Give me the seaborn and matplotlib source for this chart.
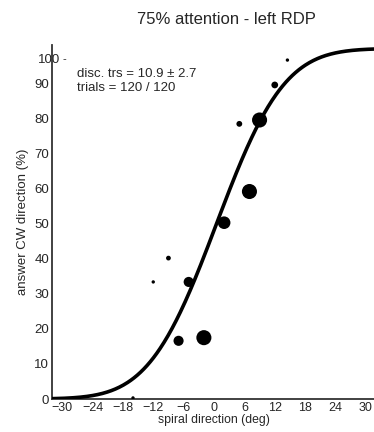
import numpy as np
import pandas as pd
import matplotlib
matplotlib.use("Agg")
import matplotlib.pyplot as plt
import seaborn as sns
from math import erf, sqrt

# ---- data ----
direction = [-16, -12, -9, -7, -5, -2, 2, 5, 7, 9, 12, 14.5]
answer_cw = [0.3, 33.4, 40.2, 16.6, 33.4, 17.5, 50.3, 78.5, 59.2, 79.6, 89.6, 96.7]
trials = [1, 1, 2, 9, 9, 20, 14, 3, 20, 20, 4, 1]
fit_mu = 0.5
fit_sigma = 10.5
x_ticks = [-30, -24, -18, -12, -6, 0, 6, 12, 18, 24, 30]
y_ticks = [0, 10, 20, 30, 40, 50, 60, 70, 80, 90]
title = "75% attention - left RDP"
info_lines = ["disc. trs = 10.9 \u00b1 2.7", "trials = 120 / 120"]

sns.set_theme(style="white")
plt.rcParams['font.family'] = ['Liberation Sans', 'DejaVu Sans']
plt.rcParams['axes.unicode_minus'] = True

fig = plt.figure(figsize=(3.74, 4.32), dpi=100)
ax = fig.add_axes([52/374, 33/432, (375-52)/374, (399-45)/432])

df = pd.DataFrame({"x": direction, "y": answer_cw, "n": trials})
curve_x = np.linspace(-32, 32, 400)
curve_y = [100 * 0.5 * (1 + erf((v - fit_mu) / (fit_sigma * sqrt(2)))) for v in curve_x]
cdf = pd.DataFrame({"x": curve_x, "y": curve_y})

sns.lineplot(data=cdf, x="x", y="y", ax=ax, color="black", linewidth=2.6, zorder=3)
k = (0.72 * 3.37) ** 2
sns.scatterplot(data=df, x="x", y="y", size="n", sizes=(k * 1, k * 20), size_norm=(1, 20),
                color="black", edgecolor="none", legend=False, ax=ax, zorder=4)

ax.set_xlim(-32, 31.8)
ax.set_ylim(0, 101)
ax.set_xticks(x_ticks)
ax.set_xticklabels([f"\u2212{abs(t)}" if t < 0 else str(t) for t in x_ticks], fontsize=9)
ax.set_yticks(y_ticks)
ax.set_yticklabels([str(t) for t in y_ticks], fontsize=9.5)
ax.tick_params(direction="in", length=4, width=1, color="black", pad=2)
ax.set_xlabel("spiral direction (deg)", fontsize=8.8, labelpad=0)
ax.set_ylabel("answer CW direction (%)", fontsize=9.5, labelpad=4)
for s in ["top", "right"]:
    ax.spines[s].set_visible(False)
for s in ["left", "bottom"]:
    ax.spines[s].set_color("#333333")
    ax.spines[s].set_linewidth(1.3)

ax.text(-30.3, 96.7, "100", ha="right", va="center", fontsize=9.5, clip_on=False, zorder=1)
ax.text(-30.0, 96.9, "-", ha="left", va="center", fontsize=8, clip_on=False)
ax.text(-27, 92.8, info_lines[0], ha="left", va="center", fontsize=9.5)
ax.text(-27, 88.8, info_lines[1], ha="left", va="center", fontsize=9.5)

fig.text(226/374, 1 - 20/432, title, ha="center", va="center", fontsize=12)
fig.savefig("out.png", dpi=100)
